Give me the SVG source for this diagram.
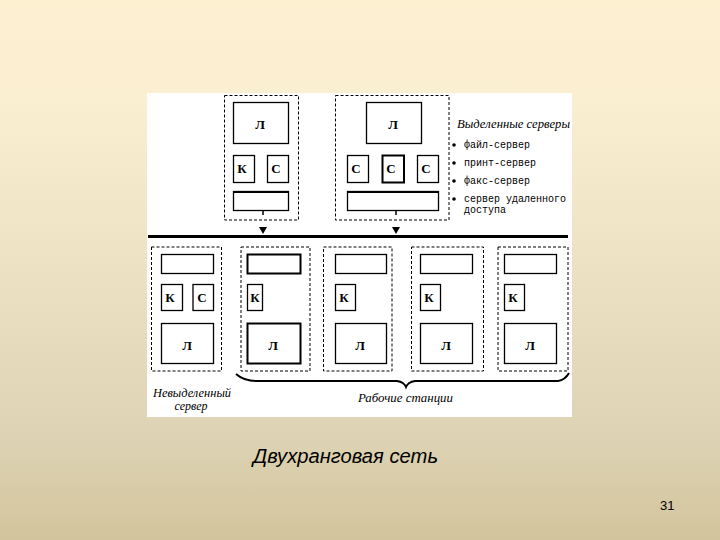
<svg xmlns="http://www.w3.org/2000/svg" width="720" height="540" viewBox="0 0 720 540">
<defs>
<linearGradient id="bg" x1="0" y1="0" x2="0" y2="1">
<stop offset="0" stop-color="#fdf0d1"/>
<stop offset="0.18" stop-color="#fbefd1"/>
<stop offset="0.8" stop-color="#ded4b5"/>
<stop offset="1" stop-color="#d2c49c"/>
</linearGradient>
<style>
.dash{fill:none;stroke:#000;stroke-width:1;stroke-dasharray:3 2}
.box{fill:#fff;stroke:#000;stroke-width:1.3}
.thick{fill:#fff;stroke:#000;stroke-width:2}
.lbl{font-family:"Liberation Serif",serif;font-weight:bold;font-size:13px;fill:#000;text-anchor:middle;dominant-baseline:central}
.mono{font-family:"Liberation Mono",monospace;font-size:10px;fill:#000}
.it{font-family:"Liberation Serif",serif;font-style:italic;font-size:12px;fill:#000}
</style>
</defs>
<rect width="720" height="540" fill="url(#bg)"/>
<rect x="147" y="93" width="425" height="324" fill="#fff"/>

<g id="connectors">
<line x1="148" y1="236.5" x2="568" y2="236.5" stroke="#000" stroke-width="3"/>
<line x1="263" y1="210" x2="263" y2="215" stroke="#000" stroke-width="1.5"/>
<polygon points="259,227 267,227 263,234" fill="#000"/>
<line x1="396" y1="210" x2="396" y2="215" stroke="#000" stroke-width="1.5"/>
<polygon points="392,227 400,227 396,234" fill="#000"/>
</g>

<g id="server1">
<rect class="dash" x="224.5" y="95.5" width="74" height="124.5"/>
<rect class="box" x="233.5" y="102.5" width="55" height="41"/>
<text class="lbl" x="260" y="124">Л</text>
<rect class="box" x="233.5" y="155.5" width="21" height="27"/>
<text class="lbl" x="242" y="168">К</text>
<rect class="box" x="267.5" y="155.5" width="21" height="27"/>
<text class="lbl" x="276" y="168">С</text>
<rect class="box" x="233.5" y="191.5" width="55" height="19"/>
<line x1="233.5" y1="192" x2="288.5" y2="192" stroke="#000" stroke-width="2"/>
</g>

<g id="server2">
<rect class="dash" x="335.5" y="95.5" width="113.5" height="124.5"/>
<rect class="box" x="366.5" y="102.5" width="55" height="41"/>
<text class="lbl" x="393" y="124">Л</text>
<rect class="box" x="347.5" y="155.5" width="21" height="27"/>
<text class="lbl" x="356" y="168">С</text>
<rect class="thick" x="382.5" y="155.5" width="21.5" height="27"/>
<text class="lbl" x="391" y="168">С</text>
<rect class="box" x="417.5" y="155.5" width="21" height="27"/>
<text class="lbl" x="426" y="168">С</text>
<rect class="box" x="347.5" y="191.5" width="91" height="19"/>
<line x1="347.5" y1="192" x2="438.5" y2="192" stroke="#000" stroke-width="2"/>
</g>

<g id="legend">
<text class="it" x="457" y="128" textLength="113" lengthAdjust="spacingAndGlyphs">Выделенные серверы</text>
<circle cx="454" cy="145" r="1.8" fill="#000"/>
<text class="mono" x="464" y="147.5">файл-сервер</text>
<circle cx="454" cy="163" r="1.8" fill="#000"/>
<text class="mono" x="464" y="165.5">принт-сервер</text>
<circle cx="454" cy="181" r="1.8" fill="#000"/>
<text class="mono" x="464" y="183.5">факс-сервер</text>
<circle cx="454" cy="199" r="1.8" fill="#000"/>
<text class="mono" x="464" y="201.5">сервер удаленного</text>
<text class="mono" x="464" y="213">доступа</text>
</g>

<g id="ws1">
<rect class="dash" x="151.5" y="247" width="70" height="124"/>
<rect class="box" x="161.5" y="254.5" width="52" height="19"/>
<rect class="box" x="161.5" y="284.5" width="21" height="26"/>
<text class="lbl" x="170" y="297">К</text>
<rect class="box" x="193" y="284.5" width="20.5" height="26"/>
<text class="lbl" x="202" y="297">С</text>
<rect class="box" x="161.5" y="323.5" width="52" height="40"/>
<text class="lbl" x="187" y="345">Л</text>
</g>

<g id="ws2">
<rect class="dash" x="241" y="247" width="69" height="124"/>
<rect class="thick" x="247.5" y="254.5" width="53" height="19"/>
<rect class="box" x="247.5" y="284.5" width="15" height="26"/>
<text class="lbl" x="255" y="297">К</text>
<rect class="thick" x="247.5" y="323.5" width="53" height="40"/>
<text class="lbl" x="273" y="345">Л</text>
</g>

<g id="ws3">
<rect class="dash" x="323.5" y="247" width="68.5" height="124"/>
<rect class="box" x="335.5" y="254.5" width="51" height="19"/>
<rect class="box" x="335.5" y="284.5" width="20" height="26"/>
<text class="lbl" x="344" y="297">К</text>
<rect class="box" x="335.5" y="323.5" width="51" height="40"/>
<text class="lbl" x="360" y="345">Л</text>
</g>

<g id="ws4">
<rect class="dash" x="411.5" y="247" width="72" height="124"/>
<rect class="box" x="420.5" y="254.5" width="52" height="19"/>
<rect class="box" x="420.5" y="284.5" width="20" height="26"/>
<text class="lbl" x="429" y="297">К</text>
<rect class="box" x="420.5" y="323.5" width="52" height="40"/>
<text class="lbl" x="446" y="345">Л</text>
</g>

<g id="ws5">
<rect class="dash" x="498" y="247" width="70" height="124"/>
<rect class="box" x="504.5" y="254.5" width="52" height="19"/>
<rect class="box" x="504.5" y="284.5" width="20" height="26"/>
<text class="lbl" x="513" y="297">К</text>
<rect class="box" x="504.5" y="323.5" width="52" height="40"/>
<text class="lbl" x="530" y="345">Л</text>
</g>

<g id="brace">
<path d="M236,374 Q244,381 256,381 L397,381 Q404,382 406,387 Q408,382 415,381 L558,381 Q565,380 569,373" fill="none" stroke="#000" stroke-width="2"/>
</g>

<g id="labels">
<text class="it" x="153" y="397" textLength="78" lengthAdjust="spacingAndGlyphs">Невыделенный</text>
<text class="it" x="191" y="410" text-anchor="middle">сервер</text>
<text class="it" x="358" y="402" textLength="95" lengthAdjust="spacingAndGlyphs">Рабочие станции</text>
</g>

<g id="caption">
<text x="253" y="463" font-family="Liberation Sans, Arial, sans-serif" font-style="italic" font-size="20" fill="#000" textLength="185" lengthAdjust="spacingAndGlyphs">Двухранговая сеть</text>
<text x="660" y="510" font-family="Liberation Sans, Arial, sans-serif" font-size="13" fill="#000">31</text>
</g>
</svg>
